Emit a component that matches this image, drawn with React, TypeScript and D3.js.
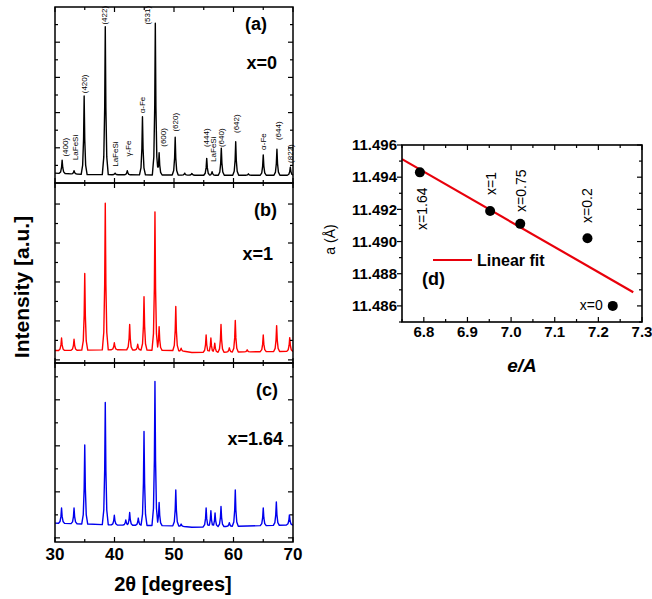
import React from 'react';
import * as d3 from 'd3';

// ---------- XRD data (2θ in degrees, intensity in arbitrary units) ----------
const peaksA: [number, number][] = [
  [31.2, 0.65], [33.2, 0.35], [34.9, 2.47], [38.45, 4.44], [40.1, 0.28], [42.15, 0.35],
  [44.7, 1.88], [46.86, 4.54], [47.5, 0.86], [50.2, 1.3], [51.8, 0.28], [53.0, 0.27],
  [55.5, 0.7], [56.4, 0.32], [57.95, 0.99], [60.37, 1.17], [62.5, 0.26], [65.0, 0.8],
  [67.3, 0.96], [69.55, 0.45],
];
const baseA: [number, number][] = [[30, 0.28], [35, 0.24], [45, 0.23], [55, 0.22], [70, 0.22]];

const peaksB: [number, number][] = [
  [31.1, 0.56], [33.2, 0.53], [35.0, 2.22], [38.45, 4.02], [39.97, 0.44], [42.55, 0.91],
  [43.9, 0.4], [44.96, 1.62], [46.8, 3.8], [47.5, 0.85], [50.3, 1.37], [51.2, 0.3],
  [55.4, 0.64], [56.2, 0.56], [56.85, 0.43], [57.9, 0.91], [59.3, 0.31], [60.3, 1.01],
  [62.3, 0.26], [65.0, 0.64], [67.25, 0.88], [69.45, 0.57],
];
const baseB: [number, number][] = [[30, 0.24], [40, 0.26], [50, 0.24], [53, 0.19], [60, 0.2], [70, 0.22]];

const peaksC: [number, number][] = [
  [31.1, 0.65], [33.2, 0.65], [35.0, 2.02], [38.45, 2.94], [39.97, 0.49], [41.9, 0.39],
  [42.55, 0.55], [44.0, 0.43], [44.96, 2.31], [46.8, 3.4], [47.5, 0.77], [50.3, 1.04],
  [51.2, 0.3], [55.4, 0.65], [56.2, 0.59], [56.9, 0.54], [57.9, 0.68], [59.3, 0.33],
  [60.3, 1.04], [65.0, 0.65], [67.2, 0.78], [69.4, 0.5],
];
const baseC: [number, number][] = [[30, 0.32], [40, 0.28], [50, 0.26], [53, 0.23], [60, 0.25], [70, 0.28]];

// peak annotations for panel (a): [text, 2θ, intensity at label bottom]
const annotA: [string, number, number][] = [
  ['(400)', 31.7, 0.75], ['LaFeSi', 33.4, 0.65], ['(420)', 34.9, 2.55], ['(422)', 38.3, 4.5],
  ['LaFeSi', 40.1, 0.46], ['γ-Fe', 42.3, 0.75], ['α-Fe', 44.6, 1.98], ['(531)', 45.4, 4.5],
  ['(600)', 48.15, 1.03], ['(620)', 50.2, 1.46], ['(444)', 55.4, 1.02], ['LaFeSi', 56.5, 0.6],
  ['(640)', 57.85, 1.02], ['(642)', 60.4, 1.42], ['α-Fe', 65.0, 0.94], ['(644)', 67.4, 1.22],
  ['(822)', 69.5, 0.57],
];

const xTicksDeg = [30, 40, 50, 60, 70];

// ---------- lattice parameter data ----------
const eA = [6.791, 6.952, 7.021, 7.175, 7.233];
const aLat = [11.4943, 11.4919, 11.4911, 11.4902, 11.486];
const sampleLabels = ['x=1.64', 'x=1', 'x=0.75', 'x=0.2', 'x=0'];
const labelAt: [number, number][] = [[6.796, 11.49072], [6.954, 11.49289], [7.023, 11.49184], [7.175, 11.49116], [7.21, 11.48575]];
const fitX = [6.75, 7.28];
const fitY = [11.49512, 11.48685];
const eATicks = [6.8, 6.9, 7.0, 7.1, 7.2, 7.3];
const aTicks = [11.486, 11.488, 11.49, 11.492, 11.494, 11.496];

const FONT = '"Liberation Sans", Arial, Helvetica, sans-serif';

function buildTrace(peaks: [number, number][], base: [number, number][]): [number, number][] {
  const b = d3.scaleLinear().domain(base.map(d => d[0])).range(base.map(d => d[1])).clamp(true);
  // piecewise-linear peak profile: offsets (deg) and fraction of peak height above background
  const prof: [number, number][] = [[0, 1], [0.1, 0.45], [0.25, 0.12], [0.5, 0]];
  const frac = d3.scaleLinear().domain(prof.map(d => d[0])).range(prof.map(d => d[1])).clamp(true);
  const shape = (x: number) => {
    let v = b(x);
    for (const [p, h] of peaks) {
      const d = Math.abs(x - p);
      if (d > 0.5) continue;
      const bp = b(p);
      const y = bp + (h - bp) * frac(d);
      if (y > v) v = y;
    }
    return v;
  };
  const xs: number[] = base.map(d => d[0]);
  for (const [p] of peaks) for (const [o] of prof) xs.push(p - o, p + o);
  const sorted = Array.from(new Set(xs.filter(x => x >= 30 && x <= 70))).sort((a, b) => a - b);
  return sorted.map(x => [x, shape(x)]);
}

const LX0 = 55, LX1 = 293;
const xDeg = d3.scaleLinear().domain([30, 70]).range([LX0, LX1]);

const panels = [
  { y0: 7, y1: 183, dom: [0, 5], peaks: peaksA, base: baseA, color: '#000000', letter: '(a)', lx: 267, ly: 30, comp: 'x=0', cx: 277, cy: 69 },
  { y0: 183, y1: 363, dom: [-0.08, 4.54], peaks: peaksB, base: baseB, color: '#ff0000', letter: '(b)', lx: 277, ly: 216, comp: 'x=1', cx: 273, cy: 260 },
  { y0: 363, y1: 542, dom: [-0.09, 3.8], peaks: peaksC, base: baseC, color: '#0000ee', letter: '(c)', lx: 278, ly: 396, comp: 'x=1.64', cx: 283, cy: 445 },
];

function XrdPanel({ p, idx }: { p: typeof panels[number]; idx: number }) {
  const y = d3.scaleLinear().domain(p.dom).range([p.y1, p.y0]);
  const line = d3.line<[number, number]>().x(d => xDeg(d[0])).y(d => y(d[1]));
  const trace = buildTrace(p.peaks, p.base);
  const xt = d3.range(30, 70.01, 5);
  const yt = d3.range(Math.ceil(p.dom[0] * 2) / 2, p.dom[1] + 1e-6, 0.5);
  return (
    <g>
      <path d={line(trace) || ''} fill="none" stroke={p.color} strokeWidth={1.4} strokeLinejoin="round" />
      {xt.map(t => {
        const len = t % 10 === 0 ? 5 : 3;
        return (
          <g key={'x' + t}>
            <line x1={xDeg(t)} x2={xDeg(t)} y1={p.y1} y2={p.y1 - len} stroke="#000" strokeWidth={1.2} />
            <line x1={xDeg(t)} x2={xDeg(t)} y1={p.y0} y2={p.y0 + len} stroke="#000" strokeWidth={1.2} />
          </g>
        );
      })}
      {yt.map(t => {
        const len = Math.abs(t - Math.round(t)) < 1e-6 ? 5 : 3;
        if (y(t) < p.y0 + 2 || y(t) > p.y1 - 2) return null;
        return (
          <g key={'y' + t}>
            <line x1={LX0} x2={LX0 + len} y1={y(t)} y2={y(t)} stroke="#000" strokeWidth={1.2} />
            <line x1={LX1} x2={LX1 - len} y1={y(t)} y2={y(t)} stroke="#000" strokeWidth={1.2} />
          </g>
        );
      })}
      <rect x={LX0} y={p.y0} width={LX1 - LX0} height={p.y1 - p.y0} fill="none" stroke="#000" strokeWidth={1.5} />
      <text x={p.lx} y={p.ly} textAnchor="end" fontSize={18} fontWeight="bold" fontFamily={FONT}>{p.letter}</text>
      <text x={p.cx} y={p.cy} textAnchor="end" fontSize={18} fontWeight="bold" fontFamily={FONT}>{p.comp}</text>
      {idx === 0 && annotA.map(([txt, xv, yv], i) => {
        const px = xDeg(xv) + 3, py = y(yv);
        return (
          <text key={'an' + i} x={px} y={py} transform={`rotate(-90 ${px} ${py})`} fontSize={8} fontFamily={FONT}>{txt}</text>
        );
      })}
    </g>
  );
}

const RX0 = 402, RX1 = 642, RY0 = 145, RY1 = 322;
const xE = d3.scaleLinear().domain([6.75, 7.3]).range([RX0, RX1]);
const yA = d3.scaleLinear().domain([11.485, 11.496]).range([RY1, RY0]);

function LatticePanel() {
  const xMinor = d3.range(6.75, 7.3001, 0.05);
  const yMinor = d3.range(11.485, 11.49601, 0.001);
  return (
    <g fontFamily={FONT}>
      <line x1={xE(fitX[0])} y1={yA(fitY[0])} x2={xE(fitX[1])} y2={yA(fitY[1])} stroke="#e8000b" strokeWidth={2.2} />
      {eA.map((v, i) => (
        <circle key={i} cx={xE(v)} cy={yA(aLat[i])} r={5} fill="#000" />
      ))}
      {sampleLabels.map((s, i) => {
        const px = xE(labelAt[i][0]), py = yA(labelAt[i][1]);
        if (i === 4) return <text key={s} x={px} y={py} textAnchor="end" fontSize={14}>{s}</text>;
        return <text key={s} x={px + 5} y={py} transform={`rotate(-90 ${px + 5} ${py})`} fontSize={14}>{s}</text>;
      })}
      {xMinor.map((t, i) => {
        const len = i % 2 === 1 ? 5 : 3;
        return (
          <g key={'xm' + i}>
            <line x1={xE(t)} x2={xE(t)} y1={RY1} y2={RY1 - len} stroke="#000" strokeWidth={1.2} />
            <line x1={xE(t)} x2={xE(t)} y1={RY0} y2={RY0 + len} stroke="#000" strokeWidth={1.2} />
          </g>
        );
      })}
      {yMinor.map((t, i) => {
        const len = i % 2 === 1 ? 5 : 3;
        return (
          <g key={'ym' + i}>
            <line x1={RX0} x2={RX0 - len} y1={yA(t)} y2={yA(t)} stroke="#000" strokeWidth={1.2} />
            <line x1={RX1} x2={RX1 - len} y1={yA(t)} y2={yA(t)} stroke="#000" strokeWidth={1.2} />
          </g>
        );
      })}
      <rect x={RX0} y={RY0} width={RX1 - RX0} height={RY1 - RY0} fill="none" stroke="#000" strokeWidth={1.6} />
      {eATicks.map(t => (
        <text key={'xl' + t} x={xE(t)} y={337} textAnchor="middle" fontSize={15} fontWeight="bold">{t.toFixed(1)}</text>
      ))}
      {aTicks.map(t => (
        <text key={'yl' + t} x={397} y={yA(t) + 5.3} textAnchor="end" fontSize={15} fontWeight="bold">{t.toFixed(3)}</text>
      ))}
      <line x1={433} x2={472} y1={260} y2={260} stroke="#e8000b" strokeWidth={2.2} />
      <text x={477} y={265.5} fontSize={16} fontWeight="bold">Linear fit</text>
      <text x={422} y={285} fontSize={18} fontWeight="bold">(d)</text>
      <text x={522} y={372} textAnchor="middle" fontSize={19} fontWeight="bold" fontStyle="italic">e/A</text>
      <text x={335} y={239.5} transform="rotate(-90 335 239.5)" textAnchor="middle" fontSize={14}>a (Å)</text>
    </g>
  );
}

export default function App() {
  return (
    <svg width={652} height={599} viewBox="0 0 652 599" style={{ position: 'absolute', left: 0, top: 0, background: '#fff' }}>
      <rect x={0} y={0} width={652} height={599} fill="#fff" />
      {panels.map((p, i) => <XrdPanel key={i} p={p} idx={i} />)}
      {xTicksDeg.map(t => (
        <text key={t} x={xDeg(t)} y={560} textAnchor="middle" fontSize={17} fontWeight="bold" fontFamily={FONT}>{t}</text>
      ))}
      <text x={173} y={591} textAnchor="middle" fontSize={20} fontWeight="bold" fontFamily={FONT}>2θ [degrees]</text>
      <text x={29} y={287} transform="rotate(-90 29 287)" textAnchor="middle" fontSize={21} fontWeight="bold" fontFamily={FONT}>Intensity [a.u.]</text>
      <LatticePanel />
    </svg>
  );
}
